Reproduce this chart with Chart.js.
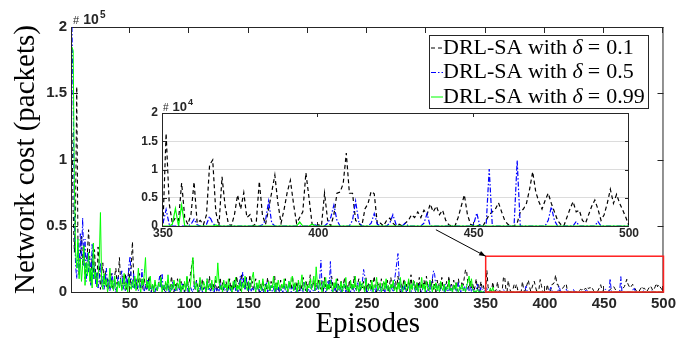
<!DOCTYPE html>
<html>
<head>
<meta charset="utf-8">
<script src="https://cdn.jsdelivr.net/npm/chart.js@4.4.1/dist/chart.umd.min.js"></script>
<style>
  html, body { margin: 0; padding: 0; background: #fff; }
  #wrap { position: relative; width: 679px; height: 345px; }
  #main { position: absolute; left: 0; top: 0; }
  #inset { position: absolute; left: 130px; top: 92px; }
</style>
</head>
<body>
<div id="wrap">
  <canvas id="main" width="679" height="345"></canvas>
  <canvas id="inset" width="510" height="155"></canvas>
</div>
<script>
// network cost per episode, in thousands of packets
const episodes = Array.from({ length: 500 }, (_, i) => i + 1);

const costDelta01 = [
  120, 60, 30, 60, 155, 40, 12, 28, 42, 20,
  35, 10, 22, 30, 47, 25, 6, 28, 14, 32,
  12, 4, 34, 20, 2, 14, 22, 6, 16, 4,
  10, 2, 8, 14, 5, 1, 12, 18, 6, 10,
  26, 8, 3, 12, 6, 14, 2, 9, 18, 5,
  20, 38, 12, 4, 10, 2, 7, 14, 3, 8,
  2, 10, 4, 1, 6, 12, 3, 0, 5, 2,
  8, 3, 1, 6, 10, 13, 2, 4, 0, 7,
  3, 9, 1, 5, 12, 2, 0, 6, 3, 10,
  4, 1, 8, 2, 6, 0, 3, 11, 5, 8,
  14, 20, 26, 6, 2, 9, 4, 0, 7, 3,
  10, 2, 5, 0, 8, 3, 12, 1, 4, 6,
  2, 9, 0, 5, 3, 11, 2, 7, 1, 4,
  8, 0, 3, 10, 2, 6, 1, 9, 4, 12,
  3, 7, 1, 14, 5, 9, 2, 11, 6, 3,
  13, 4, 8, 1, 6, 10, 2, 5, 0, 7,
  3, 9, 1, 6, 2, 11, 4, 0, 8, 3,
  5, 12, 1, 7, 3, 0, 9, 4, 2, 6,
  10, 3, 0, 5, 8, 2, 12, 4, 1, 7,
  3, 9, 0, 6, 2, 11, 5, 1, 8, 3,
  6, 13, 2, 4, 9, 1, 7, 3, 10, 5,
  2, 8, 0, 11, 4, 6, 1, 9, 3, 12,
  5, 2, 7, 0, 10, 4, 1, 8, 3, 6,
  11, 2, 5, 0, 9, 3, 7, 1, 12, 4,
  2, 6, 10, 1, 5, 3, 8, 0, 11, 4,
  7, 2, 9, 1, 6, 12, 3, 0, 8, 5,
  2, 10, 4, 1, 7, 3, 9, 0, 6, 11,
  3, 5, 1, 8, 2, 12, 4, 0, 7, 3,
  10, 2, 6, 1, 9, 4, 13, 2, 5, 8,
  1, 7, 3, 11, 0, 6, 4, 9, 2, 12,
  5, 1, 8, 3, 10, 2, 6, 0, 9, 4,
  7, 2, 11, 3, 5, 1, 8, 4, 12, 2,
  6, 0, 9, 3, 7, 1, 10, 4, 2, 8,
  5, 11, 17, 15, 6, 2, 9, 3, 7, 1,
  4, 10, 2, 6, 0, 8, 3, 5, 1, 0.5,
  16.4, 4, 0.5, 1.5, 1, 7.6, 1.5, 0.3, 2, 7.8,
  0.5, 1, 0.2, 2, 10.8, 11.7, 2.5, 0, 8.7, 3.5,
  0.5, 0, 2, 5.5, 3, 5.9, 1.5, 2, 0, 0.5,
  7.9, 2, 0.3, 3, 6, 9, 4, 0.5, 3, 6,
  8.1, 4, 0.5, 1.5, 2.5, 9.4, 5, 0.3, 0, 0.2,
  0, 5.8, 1, 0, 2, 5.8, 6, 7.5, 12.9, 5.8,
  5.8, 1, 0.5, 0, 3, 4, 6.1, 5.7, 0.3, 0.5,
  0, 1, 1.4, 0.5, 0, 0.3, 0, 0.5, 1, 2,
  1.5, 2.5, 1.5, 2.8, 2, 3.9, 2.5, 3.5, 2, 2.8,
  1, 0.2, 0, 0, 1.5, 3.5, 5.5, 2, 0.3, 0,
  0, 0.2, 0, 1, 2, 2.5, 3, 4.1, 2.5, 1,
  0.3, 0, 0, 0.5, 2.5, 3, 4, 6.5, 9.6, 6,
  4.3, 3, 4.5, 5.8, 4, 2.5, 1, 0.3, 0, 1.5,
  3, 4.3, 2.5, 2.8, 1, 0.5, 2, 3.5, 4.6, 3,
  1, 2, 4, 6.5, 4, 5.6, 4, 2.8, 1.5, 0
];

const costDelta05 = [
  200, 140, 60, 20, 10, 35, 15, 44, 25, 56,
  20, 40, 8, 30, 15, 25, 5, 36, 10, 20,
  6, 15, 3, 10, 22, 4, 12, 2, 8, 18,
  3, 10, 1, 6, 14, 2, 8, 0, 5, 12,
  3, 9, 16, 2, 6, 1, 12, 4, 20, 27,
  8, 3, 14, 2, 10, 5, 1, 7, 3, 17,
  4, 0, 6, 2, 9, 1, 3, 0, 5, 2,
  0, 4, 1, 7, 12, 3, 14, 1, 5, 0,
  2, 6, 0, 3, 1, 8, 2, 0, 4, 1,
  5, 0, 2, 7, 1, 0, 3, 6, 0, 2,
  4, 1, 0, 5, 2, 8, 0, 3, 1, 6,
  0, 2, 4, 0, 10, 1, 3, 0, 6, 2,
  0, 5, 1, 3, 0, 7, 2, 0, 4, 1,
  6, 0, 2, 5, 1, 0, 3, 8, 1, 4,
  0, 6, 12, 3, 15, 8, 2, 10, 4, 1,
  7, 0, 3, 1, 5, 0, 2, 6, 1, 0,
  4, 1, 0, 3, 7, 0, 2, 1, 5, 0,
  2, 6, 0, 1, 4, 0, 3, 1, 0, 5,
  1, 0, 3, 8, 2, 0, 4, 1, 6, 0,
  2, 0, 5, 1, 3, 0, 7, 2, 0, 4,
  1, 0, 6, 2, 0, 3, 1, 5, 0, 10,
  24, 4, 1, 6, 0, 2, 8, 3, 23, 1,
  0, 4, 1, 7, 0, 2, 5, 0, 3, 1,
  6, 0, 2, 4, 1, 0, 5, 2, 0, 3,
  1, 7, 0, 2, 5, 8, 17, 12, 3, 0,
  2, 6, 1, 0, 4, 2, 0, 5, 1, 3,
  0, 4, 1, 2, 0, 6, 1, 3, 0, 5,
  2, 0, 8, 15, 22, 29, 10, 3, 0, 4,
  1, 6, 0, 2, 5, 1, 0, 3, 7, 2,
  0, 4, 1, 6, 2, 0, 3, 5, 1, 0,
  2, 6, 0, 4, 10, 16, 13, 3, 1, 5,
  0, 2, 4, 1, 0, 6, 2, 0, 3, 1,
  5, 0, 2, 4, 1, 0, 7, 2, 0, 3,
  1, 4, 0, 6, 2, 1, 5, 0, 3, 1,
  0, 2, 6, 1, 0, 4, 2, 0, 1, 0.5,
  2.9, 0.3, 0, 0, 0, 0, 0, 0, 0.3, 1.2,
  0.2, 0, 0, 0.3, 1.7, 0.5, 0, 0, 0, 0,
  0, 0, 0, 0, 0, 0, 0, 0, 0, 0,
  0, 0.2, 1, 4.4, 0.5, 0, 0, 0, 0, 0,
  0, 0, 0, 0, 0, 0, 0, 0, 0.2, 0,
  0, 0, 0.5, 1.5, 3.7, 1, 0, 0, 0, 0,
  1, 4.4, 0.8, 0, 0, 0, 0.5, 2.2, 0.3, 0,
  0, 0, 0.5, 2, 0.3, 0, 0, 0.5, 0, 0,
  0, 0, 0, 0.5, 2.2, 0, 0, 0, 0, 0,
  0, 0, 0, 0, 0, 0, 0, 0, 0, 0.3,
  2.3, 0, 0, 0, 10.1, 0, 0, 0, 0, 0,
  0, 0, 0, 11.6, 0, 0, 0, 0, 0, 0,
  0, 0, 0, 1, 3.4, 1, 0, 0, 0, 0,
  0, 0, 0.8, 0, 0, 0, 0, 0, 0, 0.8,
  0, 0, 0, 0, 0, 0, 0, 0, 0, 0
];

const costDelta099 = [
  185, 182, 85, 30, 18, 40, 10, 25, 8, 20,
  35, 5, 22, 12, 30, 8, 18, 3, 37, 10,
  15, 4, 12, 25, 60, 8, 2, 14, 5, 10,
  0, 6, 18, 3, 9, 1, 12, 4, 0, 8,
  3, 10, 1, 5, 14, 2, 7, 0, 11, 4,
  2, 9, 3, 12, 1, 6, 18, 4, 0, 10,
  5, 14, 26, 3, 8, 1, 12, 2, 6, 0,
  9, 3, 1, 7, 4, 11, 0, 5, 2, 8,
  1, 13, 3, 0, 6, 2, 9, 4, 1, 7,
  3, 10, 0, 5, 2, 8, 1, 12, 4, 0,
  6, 18, 26, 9, 2, 7, 0, 4, 11, 3,
  1, 8, 5, 0, 10, 2, 6, 3, 9, 1,
  4, 12, 7, 22, 8, 2, 5, 0, 9, 3,
  6, 1, 10, 2, 4, 0, 8, 3, 11, 1,
  5, 2, 9, 0, 7, 3, 12, 4, 1, 8,
  2, 6, 11, 15, 4, 0, 7, 2, 9, 3,
  1, 10, 4, 0, 6, 2, 8, 1, 5, 3,
  12, 0, 7, 2, 9, 4, 1, 6, 3, 10,
  2, 5, 0, 8, 3, 11, 12, 1, 7, 4,
  0, 9, 2, 6, 13, 1, 4, 8, 0, 5,
  3, 10, 2, 7, 12, 1, 19, 6, 2, 9,
  4, 0, 8, 3, 11, 1, 6, 2, 9, 4,
  0, 7, 3, 10, 1, 5, 2, 8, 0, 6,
  3, 11, 1, 4, 0, 9, 2, 6, 3, 12,
  1, 5, 0, 8, 2, 7, 3, 0, 10, 4,
  1, 6, 2, 9, 0, 5, 3, 11, 1, 4,
  7, 0, 3, 8, 2, 10, 1, 5, 0, 6,
  3, 9, 1, 4, 0, 7, 2, 11, 3, 0,
  5, 8, 1, 3, 10, 0, 6, 2, 9, 4,
  1, 7, 0, 5, 3, 11, 2, 6, 0, 8,
  3, 1, 9, 4, 0, 6, 2, 7, 1, 5,
  0, 8, 3, 1, 6, 0, 4, 2, 9, 1,
  3, 0, 5, 2, 7, 1, 0, 4, 2, 6,
  1, 3, 0, 5, 8, 12, 4, 10, 2, 0,
  1, 0, 2, 0, 0, 1, 0, 0, 0, 0,
  0, 0, 0.3, 3.1, 0, 3.7, 0, 0, 0, 0,
  0, 0, 0, 0, 0, 0, 0.2, 0, 0, 0,
  0, 0, 0, 0, 0, 0, 0, 0, 0, 0,
  0, 0, 0, 0, 0, 0, 0, 0, 0, 0,
  0, 0, 0, 0.7, 0, 0, 0, 0.3, 0, 0,
  0, 0, 0, 0, 0, 0, 0, 0, 0, 0,
  0, 0, 0, 0, 0, 0, 0, 0, 0, 0,
  0, 0, 0, 0, 0, 0, 0, 0, 0, 0,
  0, 0, 0, 0, 0, 0, 0, 0, 0, 0,
  0, 0, 0, 0, 0, 0, 0, 0, 0, 0,
  0, 0, 0, 0, 0, 0, 0, 0, 0, 0,
  0, 0, 0, 0, 0, 0, 0, 0, 0, 0,
  0, 0, 0, 0, 0, 0, 0, 0, 0, 0,
  0, 0, 0, 0, 0, 0, 0, 0, 0, 0,
  0, 0, 0, 0, 0, 0, 0, 0, 0, 0
];

const deltas = ['0.1', '0.5', '0.99'];

const mainXTicks = [50, 100, 150, 200, 250, 300, 350, 400, 450, 500];
const mainYTicks = [0, 50, 100, 150, 200];
const mainYTickLabels = ['0', '0.5', '1', '1.5', '2'];
const insetXTicks = [350, 400, 450, 500];
const insetYTicks = [0, 5, 10, 15, 20];
const insetYTickLabels = ['0', '0.5', '1', '1.5', '2'];

// zoomed window marked on the main plot
const zoomFrom = 350, zoomTo = 500, zoomTop = 27;
const arrowStart = [308, 47];

const axisColor = '#262626';
const sans = '"Liberation Sans", Arial, sans-serif';
const serif = '"Liberation Serif", "Times New Roman", serif';

function makeDatasets(from, width) {
  return [
    { label: 'DRL-SA with δ = ' + deltas[0], data: costDelta01.slice(from),
      borderColor: '#000000', borderDash: [4, 3], borderWidth: width, order: 3 },
    { label: 'DRL-SA with δ = ' + deltas[1], data: costDelta05.slice(from),
      borderColor: '#0000ff', borderDash: [5, 2, 1.5, 2], borderWidth: width, order: 2 },
    { label: 'DRL-SA with δ = ' + deltas[2], data: costDelta099.slice(from),
      borderColor: '#00ff00', borderDash: [], borderWidth: width, order: 1 }
  ];
}

function boxAndTicks(chart, xTicks, yTicks, len) {
  const { ctx, chartArea: a, scales: { x, y } } = chart;
  ctx.save();
  ctx.strokeStyle = axisColor;
  ctx.lineWidth = 1;
  ctx.beginPath();
  xTicks.forEach(v => {
    const px = Math.round(x.getPixelForValue(v)) - 0.5;
    ctx.moveTo(px, a.bottom); ctx.lineTo(px, a.bottom - len);
    ctx.moveTo(px, a.top); ctx.lineTo(px, a.top + len);
  });
  yTicks.forEach(v => {
    const py = Math.round(y.getPixelForValue(v)) + 0.5;
    ctx.moveTo(a.left, py); ctx.lineTo(a.left + len, py);
    ctx.moveTo(a.right, py); ctx.lineTo(a.right - len, py);
  });
  ctx.stroke();
  ctx.strokeRect(a.left - 0.5, a.top + 0.5, a.right - a.left, a.bottom - a.top);
  ctx.restore();
}

function exponentLabel(ctx, x, y, exp, size) {
  ctx.save();
  ctx.fillStyle = axisColor;
  ctx.textBaseline = 'alphabetic';
  ctx.textAlign = 'left';
  ctx.font = Math.round(size * 0.8) + 'px ' + sans;
  ctx.fillText('#', x, y);
  let cx = x + ctx.measureText('#').width + size * 0.3;
  ctx.font = 'bold ' + size + 'px ' + sans;
  ctx.fillText('10', cx, y);
  cx += ctx.measureText('10').width + 1;
  ctx.font = 'bold ' + Math.round(size * 0.68) + 'px ' + sans;
  ctx.fillText(exp, cx, y - size * 0.45);
  ctx.restore();
}

function drawLegend(chart) {
  const ctx = chart.ctx;
  const left = 429, top = 35, w = 219, h = 73;
  const size = 22;
  ctx.save();
  ctx.fillStyle = '#ffffff';
  ctx.fillRect(left, top, w, h);
  ctx.strokeStyle = axisColor;
  ctx.lineWidth = 1;
  ctx.strokeRect(left + 0.5, top + 0.5, w, h);
  chart.data.datasets.forEach((ds, i) => {
    const cy = 48 + i * 24.5;
    ctx.strokeStyle = ds.borderColor;
    ctx.setLineDash(ds.borderDash);
    ctx.beginPath();
    ctx.moveTo(431, cy);
    ctx.lineTo(443, cy);
    ctx.stroke();
    ctx.setLineDash([]);
    const [pre, post] = ds.label.split('δ');
    const value = post.replace('=', '').trim();
    ctx.fillStyle = '#000000';
    ctx.textBaseline = 'middle';
    let cx = 443;
    ctx.font = size + 'px ' + serif;
    ctx.fillText(pre, cx, cy);
    cx += ctx.measureText(pre).width;
    ctx.font = 'italic ' + size + 'px ' + serif;
    ctx.fillText('δ', cx, cy);
    cx += ctx.measureText('δ').width + 5;
    ctx.font = size + 'px ' + serif;
    ctx.fillText('=', cx, cy);
    cx += ctx.measureText('=').width + 6;
    ctx.fillText(value, cx, cy);
  });
  ctx.restore();
}

const mainDecor = {
  id: 'mainDecor',
  beforeDatasetsDraw(chart) {
    boxAndTicks(chart, mainXTicks, mainYTicks, 6);
  },
  afterDraw(chart) {
    const { ctx, scales: { x, y } } = chart;

    // red box around the zoomed range
    const x0 = x.getPixelForValue(zoomFrom), x1 = x.getPixelForValue(zoomTo);
    const y0 = y.getPixelForValue(zoomTop), y1 = y.getPixelForValue(0);
    ctx.save();
    ctx.strokeStyle = '#ff2020';
    ctx.lineWidth = 1.5;
    ctx.strokeRect(x0, y0, x1 - x0, y1 - y0);

    // arrow from the inset to the box
    const sx = x.getPixelForValue(arrowStart[0]), sy = y.getPixelForValue(arrowStart[1]);
    const ang = Math.atan2(y0 - sy, x0 - sx);
    ctx.strokeStyle = '#000000';
    ctx.fillStyle = '#000000';
    ctx.lineWidth = 1;
    ctx.beginPath();
    ctx.moveTo(sx, sy);
    ctx.lineTo(x0, y0);
    ctx.stroke();
    ctx.beginPath();
    ctx.moveTo(x0, y0);
    ctx.lineTo(x0 - 7 * Math.cos(ang - 0.35), y0 - 7 * Math.sin(ang - 0.35));
    ctx.lineTo(x0 - 7 * Math.cos(ang + 0.35), y0 - 7 * Math.sin(ang + 0.35));
    ctx.closePath();
    ctx.fill();
    ctx.restore();

    exponentLabel(ctx, 73, 24, '5', 14);
    drawLegend(chart);
  }
};

const insetDecor = {
  id: 'insetDecor',
  beforeDraw(chart) {
    const { ctx, chartArea: a } = chart;
    ctx.save();
    ctx.fillStyle = '#ffffff';
    ctx.fillRect(a.left, a.top, a.right - a.left, a.bottom - a.top);
    ctx.restore();
  },
  beforeDatasetsDraw(chart) {
    boxAndTicks(chart, insetXTicks, insetYTicks, 4);
  },
  afterDraw(chart) {
    exponentLabel(chart.ctx, 33, 19, '4', 13);
  }
};

new Chart(document.getElementById('main'), {
  type: 'line',
  data: { labels: episodes, datasets: makeDatasets(0, 1) },
  options: {
    responsive: false,
    animation: false,
    events: [],
    layout: { padding: { left: 0, right: 13, top: 27, bottom: 0 } },
    elements: { point: { radius: 0 }, line: { tension: 0 } },
    plugins: { legend: { display: false }, tooltip: { enabled: false } },
    scales: {
      x: {
        type: 'linear', min: 1, max: 500,
        grid: { display: false, drawTicks: false },
        border: { display: false },
        afterBuildTicks: s => { s.ticks = mainXTicks.map(v => ({ value: v })); },
        afterFit: s => { s.height = 53; },
        ticks: { padding: 3, maxRotation: 0, color: axisColor,
                 font: { family: sans, size: 15, weight: 'bold' } },
        title: { display: true, text: 'Episodes', color: '#000000',
                 font: { family: serif, size: 29 }, padding: { top: 0, bottom: 3 } }
      },
      y: {
        min: 0, max: 200,
        grid: { display: false, drawTicks: false },
        border: { display: false },
        afterBuildTicks: s => { s.ticks = mainYTicks.map(v => ({ value: v })); },
        afterFit: s => { s.width = 72; },
        ticks: { padding: 5, color: axisColor,
                 font: { family: sans, size: 15, weight: 'bold' },
                 callback: (v, i) => mainYTickLabels[i] },
        title: { display: true, text: 'Network cost (packets)', color: '#000000',
                 font: { family: serif, size: 29 }, padding: { top: 9, bottom: 0 } }
      }
    }
  },
  plugins: [mainDecor]
});

new Chart(document.getElementById('inset'), {
  type: 'line',
  data: { labels: episodes.slice(349), datasets: makeDatasets(349, 1.2) },
  options: {
    responsive: false,
    animation: false,
    events: [],
    layout: { padding: { left: 0, right: 11, top: 21, bottom: 0 } },
    elements: { point: { radius: 0 }, line: { tension: 0 } },
    plugins: { legend: { display: false }, tooltip: { enabled: false } },
    scales: {
      x: {
        type: 'linear', min: 350, max: 500,
        grid: { display: false, drawTicks: false },
        border: { display: false },
        afterBuildTicks: s => { s.ticks = insetXTicks.map(v => ({ value: v })); },
        afterFit: s => { s.height = 21; },
        ticks: { padding: 0, maxRotation: 0, color: axisColor,
                 font: { family: sans, size: 12, weight: 'bold' } }
      },
      y: {
        min: 0, max: 20,
        grid: { display: true, drawTicks: false, color: '#dcdcdc' },
        border: { display: false },
        afterBuildTicks: s => { s.ticks = insetYTicks.map(v => ({ value: v })); },
        afterFit: s => { s.width = 33; },
        ticks: { padding: 5, color: axisColor,
                 font: { family: sans, size: 12, weight: 'bold' },
                 callback: (v, i) => insetYTickLabels[i] }
      }
    }
  },
  plugins: [insetDecor]
});
</script>
</body>
</html>
